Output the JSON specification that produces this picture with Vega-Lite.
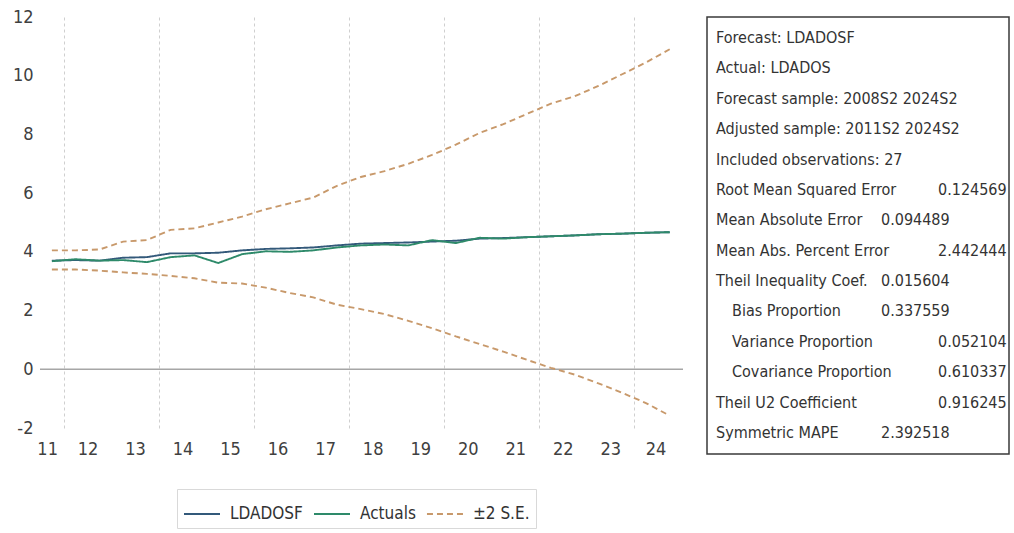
{
  "$schema": "https://vega.github.io/schema/vega-lite/v6.json",
  "background": "white",
  "padding": {"left": 12, "top": 8, "right": 5, "bottom": 5},
  "spacing": 22,
  "config": {
    "font": "Liberation Sans Narrow, DejaVu Sans Condensed, sans-serif",
    "view": {"stroke": null},
    "legend": {
      "orient": "none",
      "legendX": 137,
      "legendY": 472,
      "direction": "horizontal",
      "symbolType": "stroke",
      "symbolSize": 1300,
      "symbolStrokeWidth": 1.8,
      "labelFontSize": 17,
      "labelColor": "#333333",
      "labelOffset": 9,
      "columnPadding": 7,
      "padding": 6,
      "strokeColor": "#D9D9D9"
    }
  },
  "datasets": {
    "obs": [
      {"period": "2011S2", "t": 2011.75, "LDADOSF": 3.70, "Actuals": 3.68, "upper": 4.05, "lower": 3.40},
      {"period": "2012S1", "t": 2012.25, "LDADOSF": 3.72, "Actuals": 3.75, "upper": 4.05, "lower": 3.40},
      {"period": "2012S2", "t": 2012.75, "LDADOSF": 3.70, "Actuals": 3.70, "upper": 4.08, "lower": 3.36},
      {"period": "2013S1", "t": 2013.25, "LDADOSF": 3.80, "Actuals": 3.72, "upper": 4.35, "lower": 3.30},
      {"period": "2013S2", "t": 2013.75, "LDADOSF": 3.82, "Actuals": 3.65, "upper": 4.40, "lower": 3.25},
      {"period": "2014S1", "t": 2014.25, "LDADOSF": 3.95, "Actuals": 3.82, "upper": 4.75, "lower": 3.18},
      {"period": "2014S2", "t": 2014.75, "LDADOSF": 3.95, "Actuals": 3.88, "upper": 4.80, "lower": 3.10},
      {"period": "2015S1", "t": 2015.25, "LDADOSF": 3.97, "Actuals": 3.62, "upper": 5.00, "lower": 2.95},
      {"period": "2015S2", "t": 2015.75, "LDADOSF": 4.05, "Actuals": 3.92, "upper": 5.20, "lower": 2.92},
      {"period": "2016S1", "t": 2016.25, "LDADOSF": 4.10, "Actuals": 4.02, "upper": 5.45, "lower": 2.78},
      {"period": "2016S2", "t": 2016.75, "LDADOSF": 4.12, "Actuals": 4.00, "upper": 5.65, "lower": 2.60},
      {"period": "2017S1", "t": 2017.25, "LDADOSF": 4.15, "Actuals": 4.05, "upper": 5.85, "lower": 2.45},
      {"period": "2017S2", "t": 2017.75, "LDADOSF": 4.22, "Actuals": 4.15, "upper": 6.25, "lower": 2.20},
      {"period": "2018S1", "t": 2018.25, "LDADOSF": 4.28, "Actuals": 4.22, "upper": 6.55, "lower": 2.05},
      {"period": "2018S2", "t": 2018.75, "LDADOSF": 4.30, "Actuals": 4.25, "upper": 6.75, "lower": 1.88},
      {"period": "2019S1", "t": 2019.25, "LDADOSF": 4.32, "Actuals": 4.22, "upper": 7.00, "lower": 1.65},
      {"period": "2019S2", "t": 2019.75, "LDADOSF": 4.35, "Actuals": 4.40, "upper": 7.30, "lower": 1.40},
      {"period": "2020S1", "t": 2020.25, "LDADOSF": 4.38, "Actuals": 4.30, "upper": 7.65, "lower": 1.12},
      {"period": "2020S2", "t": 2020.75, "LDADOSF": 4.45, "Actuals": 4.48, "upper": 8.05, "lower": 0.86},
      {"period": "2021S1", "t": 2021.25, "LDADOSF": 4.47, "Actuals": 4.45, "upper": 8.35, "lower": 0.60},
      {"period": "2021S2", "t": 2021.75, "LDADOSF": 4.50, "Actuals": 4.50, "upper": 8.70, "lower": 0.32},
      {"period": "2022S1", "t": 2022.25, "LDADOSF": 4.53, "Actuals": 4.53, "upper": 9.05, "lower": 0.05},
      {"period": "2022S2", "t": 2022.75, "LDADOSF": 4.56, "Actuals": 4.56, "upper": 9.30, "lower": -0.18},
      {"period": "2023S1", "t": 2023.25, "LDADOSF": 4.60, "Actuals": 4.60, "upper": 9.65, "lower": -0.48},
      {"period": "2023S2", "t": 2023.75, "LDADOSF": 4.62, "Actuals": 4.62, "upper": 10.05, "lower": -0.80},
      {"period": "2024S1", "t": 2024.25, "LDADOSF": 4.65, "Actuals": 4.65, "upper": 10.45, "lower": -1.15},
      {"period": "2024S2", "t": 2024.75, "LDADOSF": 4.67, "Actuals": 4.67, "upper": 10.90, "lower": -1.58}
    ],
    "stats": [
      {"row": 1, "label": "Forecast: LDADOSF", "indent": 0},
      {"row": 2, "label": "Actual: LDADOS", "indent": 0},
      {"row": 3, "label": "Forecast sample: 2008S2 2024S2", "indent": 0},
      {"row": 4, "label": "Adjusted sample: 2011S2 2024S2", "indent": 0},
      {"row": 5, "label": "Included observations: 27", "indent": 0},
      {"row": 6, "label": "Root Mean Squared Error", "value": "0.124569", "tab": 2, "indent": 0},
      {"row": 7, "label": "Mean Absolute Error", "value": "0.094489", "tab": 1, "indent": 0},
      {"row": 8, "label": "Mean Abs. Percent Error", "value": "2.442444", "tab": 2, "indent": 0},
      {"row": 9, "label": "Theil Inequality Coef.", "value": "0.015604", "tab": 1, "indent": 0},
      {"row": 10, "label": "Bias Proportion", "value": "0.337559", "tab": 1, "indent": 1},
      {"row": 11, "label": "Variance Proportion", "value": "0.052104", "tab": 2, "indent": 1},
      {"row": 12, "label": "Covariance Proportion", "value": "0.610337", "tab": 2, "indent": 1},
      {"row": 13, "label": "Theil U2 Coefficient", "value": "0.916245", "tab": 2, "indent": 0},
      {"row": 14, "label": "Symmetric MAPE", "value": "2.392518", "tab": 1, "indent": 0}
    ]
  },
  "hconcat": [
    {
      "width": 643,
      "height": 411,
      "layer": [
        {
          "data": {"values": [{}]},
          "mark": {"type": "rule", "color": "#A6A6A6", "strokeWidth": 1.5},
          "encoding": {"y": {"datum": 0, "type": "quantitative"}}
        },
        {
          "data": {"name": "obs"},
          "transform": [{"fold": ["upper", "lower", "LDADOSF", "Actuals"], "as": ["line", "value"]}],
          "mark": {"type": "line", "strokeWidth": 1.9},
          "encoding": {
            "x": {
              "field": "t", "type": "quantitative",
              "scale": {"domain": [2011.5, 2025.03], "nice": false, "zero": false},
              "axis": {
                "title": null,
                "values": [2011.65, 2012, 2012.5, 2013.5, 2014, 2014.5, 2015.5, 2016, 2016.5, 2017.5, 2018, 2018.5, 2019.5, 2020, 2020.5, 2021.5, 2022, 2022.5, 2023.5, 2024, 2024.45],
                "labelExpr": "datum.value % 1 === 0 ? '' : (datum.value < 2012 ? '11' : '' + (floor(datum.value) - 2000))",
                "domain": false,
                "ticks": false,
                "grid": true,
                "gridColor": "#CFCFCF",
                "gridDash": [3, 3],
                "gridOpacity": {"condition": {"test": "datum.value % 2 === 0", "value": 1}, "value": 0},
                "labelFontSize": 18,
                "labelColor": "#404040",
                "labelPadding": 12,
                "labelOverlap": false,
                "labelFlush": false,
                "labelBound": false
              }
            },
            "y": {
              "field": "value", "type": "quantitative",
              "scale": {"domain": [-2, 12], "nice": false},
              "axis": {
                "title": null,
                "values": [-2, 0, 2, 4, 6, 8, 10, 12],
                "labelExpr": "datum.value < 0 ? '-' + abs(datum.value) : '' + datum.value",
                "domain": false,
                "ticks": false,
                "grid": false,
                "labelFontSize": 18,
                "labelColor": "#404040",
                "labelPadding": 7
              }
            },
            "color": {
              "field": "line", "type": "nominal",
              "scale": {"domain": ["LDADOSF", "Actuals", "upper", "lower"], "range": ["#33597A", "#2E8A6A", "#C8996B", "#C8996B"]},
              "legend": {"title": null, "values": ["LDADOSF", "Actuals", "upper"], "labelExpr": "datum.label === 'upper' ? '±2 S.E.' : datum.label"}
            },
            "strokeDash": {
              "field": "line", "type": "nominal",
              "scale": {"domain": ["LDADOSF", "Actuals", "upper", "lower"], "range": [[1, 0], [1, 0], [6, 4], [6, 4]]},
              "legend": {"title": null, "values": ["LDADOSF", "Actuals", "upper"], "labelExpr": "datum.label === 'upper' ? '±2 S.E.' : datum.label"}
            }
          }
        }
      ]
    },
    {
      "width": 302,
      "height": 437,
      "view": {"stroke": "#3A3A3A", "strokeWidth": 1.5},
      "data": {"name": "stats"},
      "encoding": {
        "y": {"field": "row", "type": "ordinal", "scale": {"type": "point", "padding": 0.69}, "axis": null}
      },
      "layer": [
        {
          "transform": [{"filter": "datum.indent == 0"}],
          "mark": {"type": "text", "align": "left", "baseline": "middle", "fontSize": 16, "color": "#333333"},
          "encoding": {
            "x": {"datum": 0, "type": "quantitative", "scale": {"domain": [0, 1, 2], "range": [9, 174, 231]}, "axis": null},
            "text": {"field": "label"}
          }
        },
        {
          "transform": [{"filter": "datum.indent == 1"}],
          "mark": {"type": "text", "align": "left", "baseline": "middle", "fontSize": 16, "color": "#333333", "dx": 16},
          "encoding": {
            "x": {"datum": 0, "type": "quantitative", "axis": null},
            "text": {"field": "label"}
          }
        },
        {
          "transform": [{"filter": "isValid(datum.value)"}],
          "mark": {"type": "text", "align": "left", "baseline": "middle", "fontSize": 16, "color": "#333333"},
          "encoding": {
            "x": {"field": "tab", "type": "quantitative", "axis": null},
            "text": {"field": "value"}
          }
        }
      ]
    }
  ]
}
